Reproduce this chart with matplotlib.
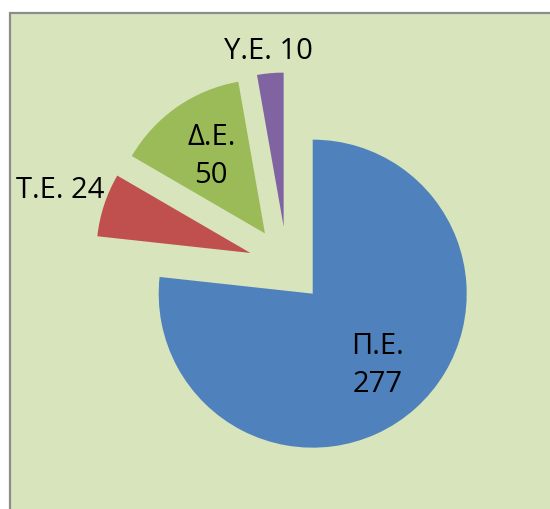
import numpy as np
import matplotlib
matplotlib.use("Agg")
import matplotlib.pyplot as plt
from matplotlib.patches import Rectangle

plt.rcParams['font.family'] = ['Open Sans', 'DejaVu Sans']

# data
categories = ['Π.Ε.', 'Τ.Ε.', 'Δ.Ε.', 'Υ.Ε.']
values = [277, 24, 50, 10]
colors = ['#4F81BD', '#C0504D', '#9BBB59', '#8064A2']
label_fmt = ['{}\n{}', '{} {}', '{}\n{}', '{} {}']
label_dist = [0.63, 1.30, 0.61, 1.14]   # relative to radius, from wedge tip

W, H = 550, 509
fig = plt.figure(figsize=(W / 100, H / 100), dpi=100)
ax = fig.add_axes([0, 0, 1, 1])

# chart area (frame cut off on the right / bottom like the original)
ax.add_patch(Rectangle((10, -20), W + 20, H - 13 + 20, facecolor='#D8E4BC',
                       edgecolor='#8C8C8C', linewidth=1.6, zorder=0))

radius = 154
cx, cy = 287, H - 265
wedges, _ = ax.pie(values, colors=colors, startangle=90, counterclock=False,
                   radius=radius, center=(cx, cy),
                   explode=[radius * 0.25] * len(values),
                   wedgeprops=dict(linewidth=0))

for w, cat, val, fmt, d in zip(wedges, categories, values, label_fmt, label_dist):
    mid = np.deg2rad((w.theta1 + w.theta2) / 2)
    x0, y0 = w.center
    ax.text(x0 + radius * d * np.cos(mid), y0 + radius * d * np.sin(mid),
            fmt.format(cat, val), ha='center', va='center', fontsize=21,
            linespacing=1.4, color='black')

ax.set_xlim(0, W)
ax.set_ylim(0, H)
ax.set_aspect('equal')
ax.axis('off')

fig.savefig('out.png', dpi=100, facecolor='white')
